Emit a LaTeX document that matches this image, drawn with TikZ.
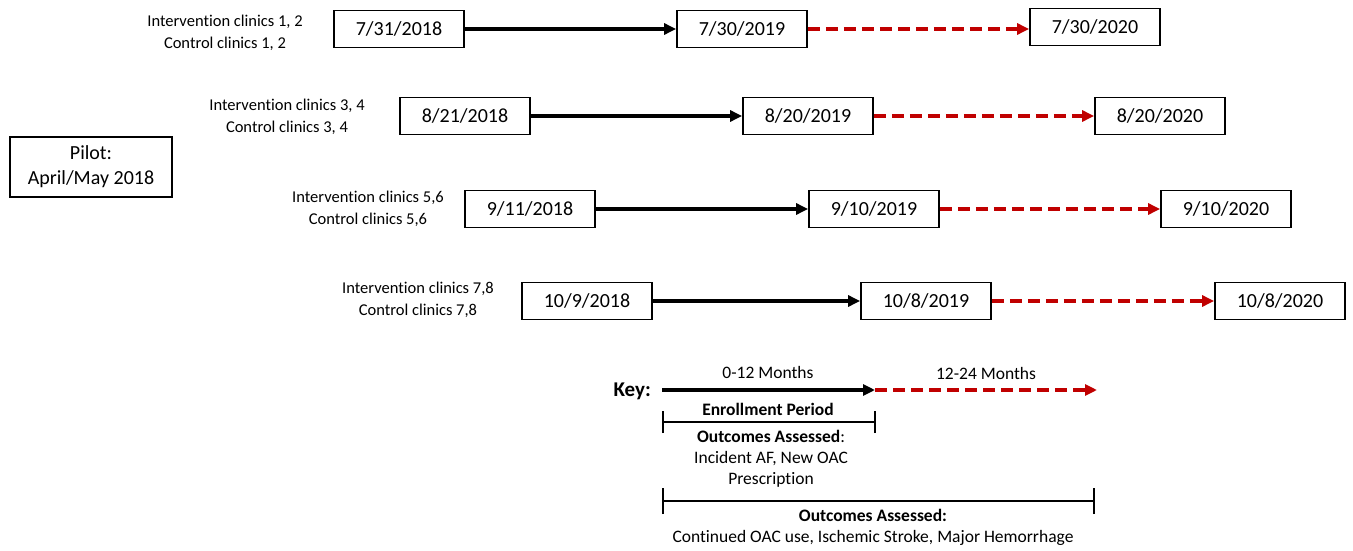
\documentclass[tikz,border=0pt]{standalone}
\usepackage{fontspec}
\setmainfont{Carlito}[Ligatures=NoCommon]
\usetikzlibrary{arrows.meta}
\definecolor{darkred}{HTML}{C00000}
\tikzset{
  datebox/.style={draw, line width=1.8pt, minimum width=130pt, minimum height=37pt, inner sep=0pt, font=\fontsize{20}{22}\selectfont},
  lbl/.style={align=center, font=\fontsize{16.5}{22.5}\selectfont, inner sep=0pt},
  solidarr/.style={line width=3.4pt, -{Triangle[length=12pt,width=11pt]}},
  dasharr/.style={line width=3.4pt, darkred, dash pattern=on 12pt off 6pt, -{Triangle[length=12pt,width=11pt]}},
  keytxt/.style={font=\fontsize{17.5}{21}\selectfont, inner sep=0pt, align=center},
  brk/.style={line width=1.8pt}
}
\begin{document}
\begin{tikzpicture}[x=1pt,y=-1pt]
\useasboundingbox (0,0) rectangle (1353,551);
% Pilot
\node[draw, line width=1.8pt, minimum width=162pt, minimum height=60pt, align=center, font=\fontsize{20}{25}\selectfont] (pilot) at (91,167) {Pilot:\\April/May 2018};
% Row 1
\node[datebox] (a1) at (399,29) {7/31/2018};
\node[datebox] (a2) at (742,29) {7/30/2019};
\node[datebox] (a3) at (1095,27) {7/30/2020};
\node[lbl] (la) at (225,33) {Intervention clinics 1, 2\\Control clinics 1, 2};
\draw[solidarr] (a1) -- (a2);
\draw[dasharr] (a2.east) -- (a3.west|-a2.east);
% Row 2
\node[datebox] (b1) at (465,116) {8/21/2018};
\node[datebox] (b2) at (808,116) {8/20/2019};
\node[datebox] (b3) at (1160,116) {8/20/2020};
\node[lbl] (lb) at (287,117) {Intervention clinics 3, 4\\Control clinics 3, 4};
\draw[solidarr] (b1) -- (b2);
\draw[dasharr] (b2) -- (b3);
% Row 3
\node[datebox] (c1) at (530,209) {9/11/2018};
\node[datebox] (c2) at (874,209) {9/10/2019};
\node[datebox] (c3) at (1226,209) {9/10/2020};
\node[lbl] (lc) at (368,209) {Intervention clinics 5,6\\Control clinics 5,6};
\draw[solidarr] (c1) -- (c2);
\draw[dasharr] (c2) -- (c3);
% Row 4
\node[datebox] (d1) at (587,301) {10/9/2018};
\node[datebox] (d2) at (926,301) {10/8/2019};
\node[datebox] (d3) at (1280,301) {10/8/2020};
\node[lbl] (ld) at (418,300) {Intervention clinics 7,8\\Control clinics 7,8};
\draw[solidarr] (d1) -- (d2);
\draw[dasharr] (d2) -- (d3);
% Key
\node[keytxt, font=\fontsize{21}{23}\selectfont\bfseries, anchor=east] (key) at (651,391) {Key:};
\coordinate (k0) at (662,390);
\coordinate (k1) at (875,390);
\coordinate (k2) at (1097,390);
\draw[solidarr] (k0) -- (k1);
\draw[dasharr] (k1) -- (k2);
\node[keytxt] (m1) at (768,372) {0-12 Months};
\node[keytxt] (m2) at (986,373) {12-24 Months};
\node[keytxt, font=\fontsize{17.5}{19}\selectfont\bfseries] (enr) at (768,409) {Enrollment Period};
% small bracket
\coordinate (s0) at (663,422);
\coordinate (s1) at (875,422);
\draw[brk] (s0) -- (s1);
\draw[brk] ([yshift=-11pt]s0) -- ([yshift=11pt]s0);
\draw[brk] ([yshift=-11pt]s1) -- ([yshift=11pt]s1);
\node[keytxt] (o1) at (771,459) {\textbf{Outcomes Assessed}:\\Incident AF, New OAC\\Prescription};
% large bracket
\coordinate (t0) at (663,501);
\coordinate (t1) at (1094,501);
\draw[brk] (t0) -- (t1);
\draw[brk] ([yshift=-13pt]t0) -- ([yshift=13pt]t0);
\draw[brk] ([yshift=-13pt]t1) -- ([yshift=13pt]t1);
\node[keytxt] (o2) at (873,527) {\textbf{Outcomes Assessed:}\\Continued OAC use, Ischemic Stroke, Major Hemorrhage};
\end{tikzpicture}
\end{document}
